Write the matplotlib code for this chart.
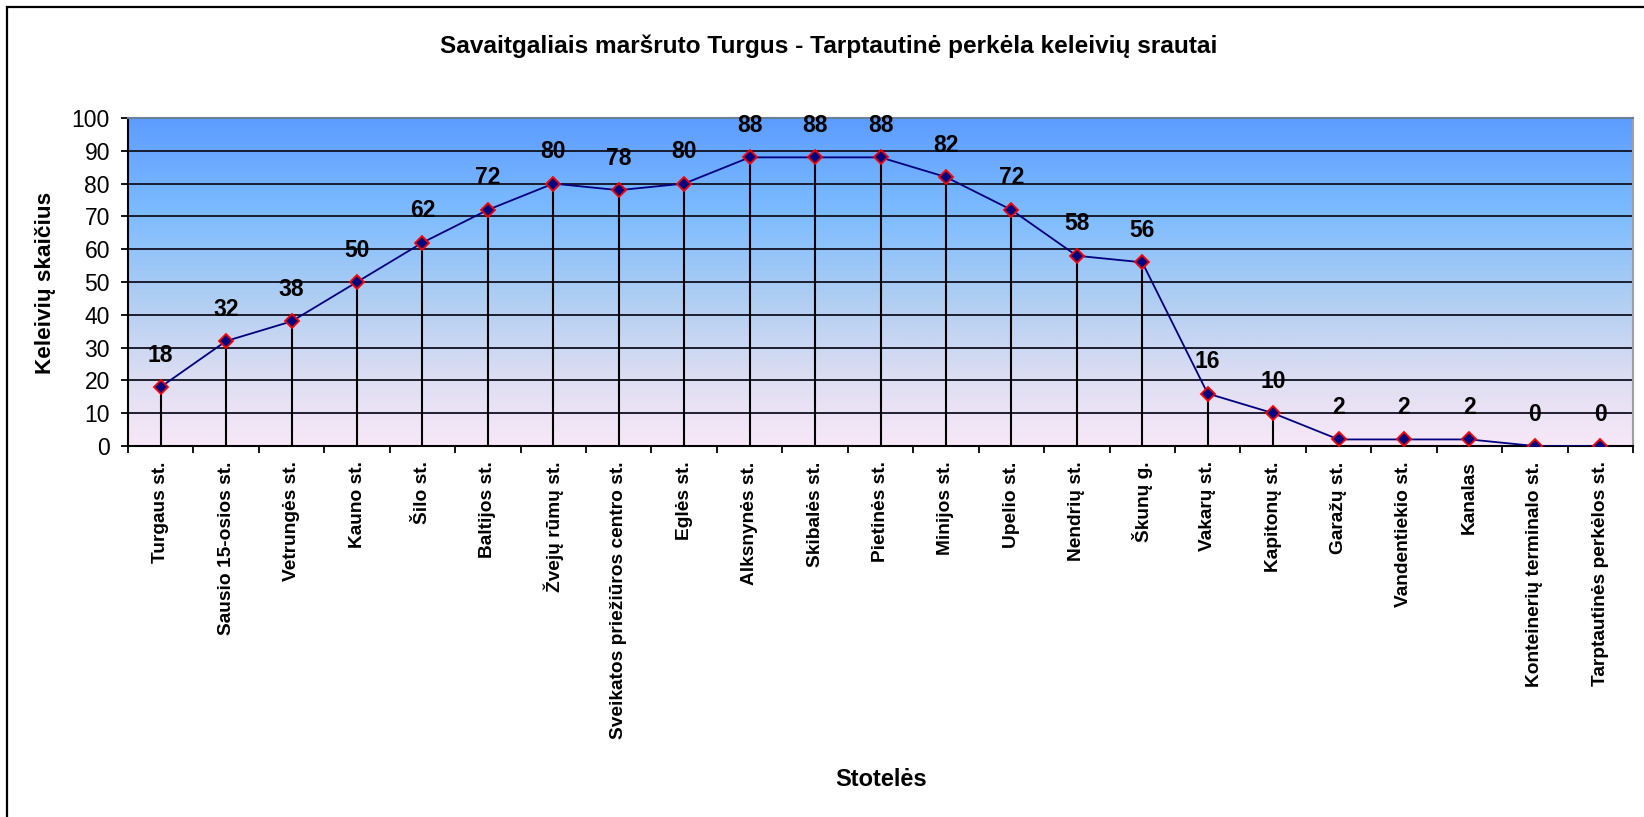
import numpy as np
import matplotlib.pyplot as plt
from matplotlib.colors import LinearSegmentedColormap
from matplotlib.patches import Rectangle

plt.rcParams['font.family'] = ['Liberation Sans', 'DejaVu Sans']

stops = ['Turgaus st.', 'Sausio 15-osios st.', 'Vetrungės st.', 'Kauno st.', 'Šilo st.',
         'Baltijos st.', 'Žvejų rūmų st.', 'Sveikatos priežiūros centro st.', 'Eglės st.',
         'Alksnynės st.', 'Skibalės st.', 'Pietinės st.', 'Minijos st.', 'Upelio st.',
         'Nendrių st.', 'Škunų g.', 'Vakarų st.', 'Kapitonų st.', 'Garažų st.',
         'Vandentiekio st.', 'Kanalas', 'Konteinerių terminalo st.', 'Tarptautinės perkėlos st.']
passengers = [18, 32, 38, 50, 62, 72, 80, 78, 80, 88, 88, 88, 82, 72, 58, 56, 16, 10, 2, 2, 2, 0, 0]

W, H = 1644, 817
fig = plt.figure(figsize=(W / 100, H / 100), dpi=100)

# outer chart frame (only left and top visible)
fig.patches.append(Rectangle((7 / W, -0.1), 1.2, 1 - 7 / H + 0.1, transform=fig.transFigure,
                             fill=False, edgecolor='black', linewidth=1.6, zorder=0))

left, right, top, bottom = 128, 1633, 118, 446
ax = fig.add_axes([left / W, 1 - bottom / H, (right - left) / W, (bottom - top) / H])

x = np.arange(len(stops))
ax.set_xlim(-0.5, len(stops) - 0.5)
ax.set_ylim(0, 100)

# gradient background
cmap = LinearSegmentedColormap.from_list('bg', [
    (0.0, (248 / 255, 232 / 255, 248 / 255)),
    (0.2, (222 / 255, 222 / 255, 242 / 255)),
    (0.45, (175 / 255, 206 / 255, 242 / 255)),
    (0.7, (126 / 255, 188 / 255, 255 / 255)),
    (1.0, (92 / 255, 156 / 255, 255 / 255))])
grad = np.linspace(0, 1, 256).reshape(-1, 1)
ax.imshow(grad, aspect='auto', cmap=cmap, origin='lower',
          extent=[-0.5, len(stops) - 0.5, 0, 100], zorder=0)

ax.set_yticks(np.arange(0, 101, 10))
ax.grid(axis='y', color='#101020', linewidth=1.3, zorder=1)
ax.set_axisbelow(True)

ax.vlines(x, 0, passengers, color='black', linewidth=1.5, zorder=2)
ax.plot(x, passengers, color='#000080', linewidth=1.3, marker='D', markersize=7,
        markerfacecolor='#000080', markeredgecolor='red', markeredgewidth=1.3, zorder=3)

for xi, v in zip(x, passengers):
    ax.annotate(str(v), (xi, v), xytext=(0, 23), textcoords='offset points',
                ha='center', va='center', fontsize=16.5, fontweight='bold', zorder=4)

ax.set_xticks(x)
ax.set_xticklabels(stops, rotation=90, fontsize=13.8, fontweight='bold')
ax.set_xticks(np.arange(-0.5, len(stops), 1), minor=True)
ax.tick_params(axis='x', which='major', length=0, pad=11)
ax.tick_params(axis='x', which='minor', length=5, width=1.3, direction='out')
ax.tick_params(axis='y', length=5, width=1.3, pad=8, labelsize=16.5)

for s in ['left', 'bottom']:
    ax.spines[s].set_linewidth(1.5)
    ax.spines[s].set_color('black')
ax.spines['top'].set_color('#6a7f9a')
ax.spines['right'].set_color('#a0a0a0')
ax.spines['top'].set_linewidth(1.5)
ax.spines['right'].set_linewidth(1.5)

fig.text(829 / W, 1 - 46 / H, 'Savaitgaliais maršruto Turgus - Tarptautinė perkėla keleivių srautai',
         ha='center', va='center', fontsize=17.6, fontweight='bold')
fig.text(45 / W, 1 - 283 / H, 'Keleivių skaičius', rotation=90, ha='center', va='center',
         fontsize=16.2, fontweight='bold')
fig.text(881 / W, 1 - 780 / H, 'Stotelės', ha='center', va='center', fontsize=17, fontweight='bold')

fig.savefig('out.png', dpi=100)
